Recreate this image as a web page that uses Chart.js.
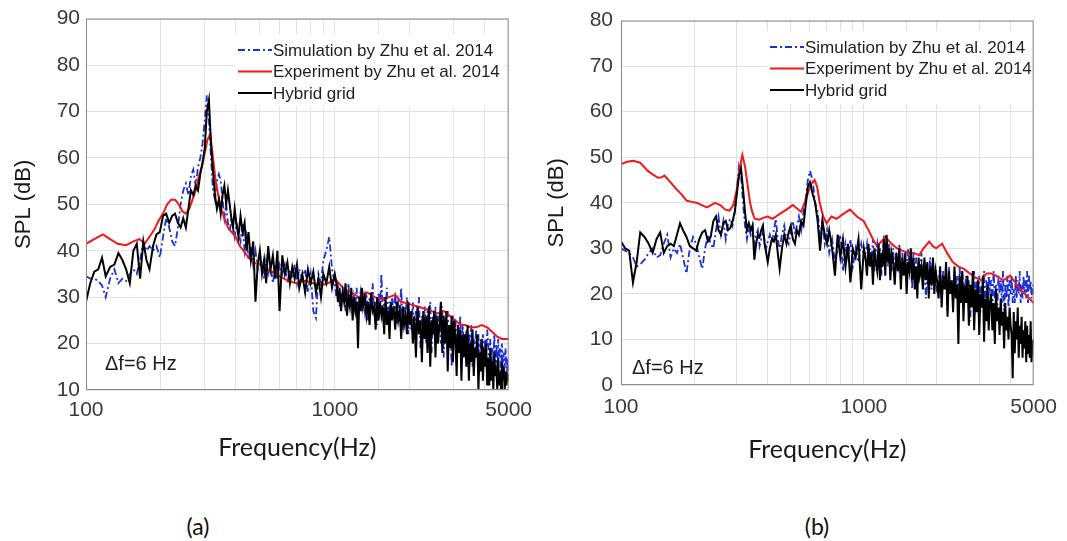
<!DOCTYPE html>
<html>
<head>
<meta charset="utf-8">
<script src="https://cdn.jsdelivr.net/npm/chart.js@4"></script>
<style>
  html, body { margin: 0; padding: 0; background: #fff; }
  body { width: 1067px; height: 541px; position: relative; overflow: hidden; }
  canvas { position: absolute; top: 0; }
  #chartA { left: 0; }
  #chartB { left: 540px; }
  .caption { position: absolute; top: 512px; width: 100px; text-align: center;
             font-family: Lato, "Open Sans", sans-serif; font-size: 23px; color: #111; }
</style>
</head>
<body>
<canvas id="chartA" width="540" height="480"></canvas>
<canvas id="chartB" width="527" height="480"></canvas>
<div class="caption" style="left:148px">(a)</div>
<div class="caption" style="left:767px">(b)</div>
<script>
// series names (legend order)
const seriesNames = ['Simulation by Zhu et al. 2014', 'Experiment by Zhu et al. 2014', 'Hybrid grid'];
const xTickLabels = [100, 1000, 5000];

// frequency grid shared by the simulation and hybrid-grid spectra (Hz)
const freqHz = [100,104,108,112,116,120,
  125,130,135,140,145,150,155,160,165,170,175,180,
  186,192,198,204,210,216,222,228,234,240,246,252,258,264,270,276,282,288,294,300,
  306,312,318,324,330,336,342,348,354,360,366,372,378,384,390,396,402,
  410,418,426,434,442,450,
  460,470,480,490,500,510,520,530,540,
  552,564,576,588,600,
  615,630,645,660,675,690,705,720,
  740,760,780,800,820,840,860,880,900,
  925,950,975,1000,
  1015,1030,1045,1060,1075,1090,1105,1120,1135,1150,1165,1180,1195,1210,1225,1240,1255,1270,1285,1300,
  1320,1340,1360,1380,1400,1420,1440,1460,1480,1500,1520,1540,1560,1580,1600,1620,1640,1660,1680,1700,
  1725,1750,1775,1800,1825,1850,1875,1900,1925,1950,1975,2000,
  2030,2060,2090,2120,2150,2180,2210,2240,2270,2300,2330,2360,2390,2420,2450,2480,2510,2540,2570,2600,
  2635,2670,2705,2740,2775,2810,2845,2880,2915,2950,2985,3020,3055,3090,3125,3160,3195,3230,3265,3300,
  3340,3380,3420,3460,3500,3540,3580,3620,3660,3700,3740,3780,3820,3860,3900,3940,3980,4020,4060,4100,
  4140,4180,4220,4260,4300,4340,4380,4420,4460,4500,4540,4580,4620,4660,4700,4740,4780,4820,4860,4900,4950,5000];

// ---- panel (a) ----
const blackA = [29,33,35.5,36,38.5,34.5,
  36.5,37,39.5,38,36,33,40,41.5,34,42,38,36,
  41,43.5,44,47.5,48,46,47.5,48,46,45,47,45,49,53,52,54,53,56.5,59,62,
  70,72.5,63,57,52,49,51,48,52,54,50,53,50,47,45,49,46,
  43,47.5,44,46,40,44,
  38,42,29,37,40,35,38,33,41,
  36,39,34,40,27,
  39,35,37.5,33,36.5,34,37,32,
  35,31,36,33,35.5,31,34,30,35,
  33,36.5,32,35,
  33,29,32,27,31,29,33,26,30,28,32,25,30,27,29,19,30,27,32,28,
  30,26,29,24,31,27,28,23,30,25,29,26,28,22,30,24,27,21,29,25,
  28,23,29,25,27,21,28,24,26,22,29,24,
  27,20,26,17,28,22,25,16,27,21,26,18,28,15,25,22,27,17,26,20,
  24,29,18,26,20,27,14,24,19,26,16,25,21,13,24,18,23,12,22,17,
  22,15,24,12,20,16,23,13,19,17,22,10,18,14,21,12,19,15,20,11,
  17,11,19,12,16,10,18,13,15,10,17,11,14,10,16,12,15,10,14,11,13,12];

const blueA = [34.5,34,34,33.5,32.5,30,
  34,36,33,34,33.5,35,36,35,38,42,40,41,
  40,41,38.5,43,47,45,42,41,45,50,53,54.5,52,56,57.5,54,58,60,63,68,
  73.5,68,60,53,51,55,56.5,55,51,47,50,46,44,47,45,43,46,
  44,42,46,40,43,38,
  41,37,40,36,39,37,34,38,35,
  37,33,36,34,37,
  35,37,33,36,34,37,33,36,
  34,36,31,35,27,25.5,35,33,38,
  40,43,36,33,
  30,33,28,31,29,32,27,30,33,28,31,26,30,28,32,25,29,31,27,30,
  27,31,25,30,28,33,26,29,24,31,27,35,25,30,27,32,24,29,26,30,
  26,31,24,29,27,32,23,28,26,30,22,27,
  23,29,21,27,24,30,19,26,23,28,20,27,25,29,18,26,22,28,21,25,
  26,20,28,17,25,22,27,19,24,15,26,21,25,18,23,20,26,17,24,21,
  18,23,16,22,19,24,15,21,18,23,17,22,14,21,19,22,16,21,18,23,
  20,15,21,14,19,16,22,13,20,15,21,17,19,13,20,14,18,15,19,13,17,12];

const redFreqA = [100,108,117,125,134,145,155,164,172,180,
  188,196,204,212,220,228,236,244,252,260,268,276,284,292,300,
  308,316,324,332,340,350,360,372,385,400,
  415,430,450,470,500,530,560,600,650,700,
  760,820,880,940,1000,1080,1160,1250,1350,1450,
  1550,1650,1750,1850,2000,2150,2300,2450,2600,2750,
  2900,3050,3200,3350,3500,3700,3900,4100,4300,4500,
  4700,4850,5000];
const redA = [41.5,42.5,43.5,42.5,41.5,41.2,42,42.5,41.5,43,
  44.5,46.5,48,50,51,51,50,48.5,48,49,51,53,56,58,61,
  64,65,60,55,52,49,47,45,44,43,
  41,40,38.5,37.5,37,36,35.5,34.5,33.5,33,
  33.5,33,32.5,33,34,32,31,30,31,30,
  29.5,30,30.5,29,28.5,28,27.5,27,26.5,27,
  26,25,24,24,23.5,23.5,24,23.5,22.5,21.5,
  21,21,21];

// ---- panel (b) ----
const blackB = [31.5,30,29.5,22.5,27,33.5,
  32.5,31,29,32,33.5,29,30.5,31,30.5,33,35.5,34,
  32.5,30.5,30,29.5,32,33.5,34,31.5,32.5,36,37,34,33,35.5,36,34,34.5,36,38,42,
  46,47.5,43,38,34,35.5,34,35,27.5,31,33,32.5,34,35,31,29,27,
  30,32,31.5,33,29,25.5,
  30,33,31,33.5,35,32,31,34,33,
  36,35,39.5,43.5,44.5,
  42,40,36,29.5,36,33,31,34,
  30,24,33,28,32,26,31,22.5,30,
  28,32,21,30,
  28,24,31,26,29,22,30,27,25,31,23,29,26,32,24,33,27,30,23,29,
  27,22,29,25,30,21,28,24,29,20,27,25,30,23,28,21,26,19,28,24,
  26,21,28,23,27,19,26,22,28,20,25,23,
  19,26,17,24,21,27,15,25,20,23,16,26,19,22,9,24,18,25,14,22,
  18,24,13,22,17,25,12,21,16,23,11,20,17,24,9.5,19,14,22,12,18,
  20,12,18,9,21,14,17,11,19,13,16,8,18,12,15,10,17,13,11,1.5,
  16,7,14,10,17,6,13,9,15,6,12,8,14,5,13,7,11,6,14,5,9,10];

const blueB = [30,29.5,29,28,26,26.5,
  27.5,29,30,28,28.5,31,33,28,30,29,31,28,
  24.5,30,32.5,31,28,25.5,30,33,31,30,34,37,33,36,32,35.5,36.5,35,38,43,
  48,46,40,35,32,34.5,33,35,31,33,34,30.5,32,33.5,32,30,31.5,
  33,31,34,36.5,32,30,
  33,35,32,31,34,36,33,35,37,
  34,38,41,45,47,
  45,40,38,33,36,31,34,29,
  32,27,30,33,25,31,28,32,26,
  30,27,31,28,
  29,31,26,30,27,32,25,29,31,27,30,24,29,33,27,30,26,31,28,25,
  30,24,28,26,31,23,29,25,28,22,30,26,27,21,29,24,28,22,27,25,
  29,23,27,19,26,24,28,21,27,23,26,20,
  22,26,19,25,21,24,16,26,20,23,18,25,21,24,16,26,19,25,22,20,
  24,18,23,14,22,20,25,17,23,19,24,16,22,20,25,15,23,19,24,21,
  23,17,25,19,22,16,24,20,23,18,25,16,22,19,24,17,23,20,24,18,
  21,18,24,19,23,20,25,18,22,19,24,20,23,19,25,18,24,21,23,19,22,20];

const redFreqB = [100,106,112,120,129,137,142,147,151,160,
  169,178,186,195,205,215,226,235,244,256,
  269,280,290,300,308,316,324,332,340,347,
  355,370,385,401,421,449,480,510,552,579,
  605,627,642,658,680,702,735,772,820,877,
  935,997,1045,1090,1132,1180,1227,1300,1370,1439,
  1520,1600,1688,1760,1858,1920,1982,2100,2200,2323,
  2450,2580,2725,2900,3050,3197,3350,3500,3750,4000,
  4200,4398,4600,4800,5000];
const redB = [48.5,49,49.2,48.8,47,46,45.5,45.6,46,44.5,
  43,41.8,40.5,40.2,40,39.5,39,39.5,40,39.5,
  38.5,38.3,39.5,43,47.5,50.5,48,44,40,38,
  36.5,36.3,36.7,37,36.5,37.5,38.5,39.5,38,41,
  44,45,43.5,40,37,35.5,37,36.5,37.5,38.5,
  37,36,34,32,30.5,31.5,32.5,31,30,29.5,
  29,29,28.5,30,31.5,30.5,30,31,29,27,
  26,25.5,24.5,23.5,23,24.5,24.5,24,23,24,
  22.5,21,20,19,18];

Chart.defaults.font.family = '"Liberation Sans", Arial, sans-serif';

function pairs(xs, ys) {
  return xs.map((f, i) => ({ x: f, y: ys[i] }));
}

// frame, inside legend and the Δf note
const panelDecor = {
  id: 'panelDecor',
  afterDraw(chart, args, opts) {
    const ctx = chart.ctx;
    const a = chart.chartArea;
    ctx.save();
    ctx.strokeStyle = '#8a8a8a';
    ctx.lineWidth = 1;
    ctx.strokeRect(a.left + 0.5, a.top + 0.5, a.right - a.left - 1, a.bottom - a.top - 1);

    const gap = 21.5;
    ctx.fillStyle = '#fff';
    ctx.fillRect(opts.legendX - 3, opts.legendY - 16, a.right - opts.legendX - 2, gap * 2 + 30);
    chart.data.datasets.forEach((ds, i) => {
      const y = opts.legendY + i * gap;
      ctx.beginPath();
      ctx.strokeStyle = ds.borderColor;
      ctx.lineWidth = ds.borderWidth;
      ctx.setLineDash(ds.borderDash || []);
      ctx.moveTo(opts.legendX, y);
      ctx.lineTo(opts.legendX + 34, y);
      ctx.stroke();
      ctx.setLineDash([]);
      ctx.fillStyle = '#1e1e1e';
      ctx.font = '17px "Liberation Sans", Arial, sans-serif';
      ctx.textBaseline = 'middle';
      ctx.fillText(ds.label, opts.legendX + 35, y + 1);
    });

    ctx.font = '20px "Liberation Sans", Arial, sans-serif';
    ctx.fillStyle = '#1e1e1e';
    ctx.textBaseline = 'middle';
    ctx.fillText('\u0394f=6 Hz', opts.noteX, opts.noteY);
    ctx.restore();
  }
};

function makePanel(canvasId, cfg) {
  return new Chart(document.getElementById(canvasId), {
    type: 'line',
    data: {
      datasets: [{
        label: seriesNames[0],
        data: pairs(freqHz, cfg.blue),
        borderColor: '#1b2fd6',
        borderWidth: 1.8,
        borderDash: [7, 3, 2, 3],
        order: 2
      }, {
        label: seriesNames[1],
        data: pairs(cfg.redFreq, cfg.red),
        borderColor: '#f01818',
        borderWidth: 2,
        order: 1
      }, {
        label: seriesNames[2],
        data: pairs(freqHz, cfg.black),
        borderColor: '#000000',
        borderWidth: 2,
        order: 0
      }]
    },
    options: {
      responsive: false,
      animation: false,
      devicePixelRatio: 1,
      layout: { padding: { top: cfg.padTop, right: cfg.padRight, left: 0, bottom: 0 } },
      elements: { point: { radius: 0 }, line: { tension: 0 } },
      plugins: {
        legend: { display: false },
        tooltip: { enabled: false },
        panelDecor: { legendX: cfg.legendX, legendY: cfg.legendY, noteX: cfg.noteX, noteY: cfg.noteY }
      },
      scales: {
        x: {
          type: 'logarithmic',
          min: 100,
          max: 5000,
          afterFit: (s) => { s.height = cfg.xAxisH; },
          grid: { color: '#e2e2e2', drawTicks: false },
          border: { display: false },
          ticks: {
            autoSkip: false,
            maxRotation: 0,
            padding: cfg.xTickPad,
            color: '#3a3a3a',
            font: { size: 21 },
            callback: (v) => xTickLabels.includes(v) ? String(v) : ''
          },
          title: {
            display: true,
            text: 'Frequency(Hz)',
            color: '#1a1a1a',
            font: { family: 'Lato, "Open Sans", sans-serif', size: 25 },
            padding: { top: 0, bottom: cfg.xTitlePad }
          }
        },
        y: {
          min: cfg.yMin,
          max: cfg.yMax,
          afterFit: (s) => { s.width = cfg.yAxisW; },
          grid: { color: '#e2e2e2', drawTicks: false },
          border: { display: false },
          ticks: { stepSize: 10, padding: cfg.yTickPad, color: '#3a3a3a', font: { size: 21 } },
          title: {
            display: true,
            text: 'SPL (dB)',
            color: '#1a1a1a',
            font: { size: 22 },
            padding: { top: cfg.yTitlePad, bottom: 0 }
          }
        }
      }
    },
    plugins: [panelDecor]
  });
}

makePanel('chartA', {
  blue: blueA, red: redA, redFreq: redFreqA, black: blackA,
  yMin: 10, yMax: 90, yAxisW: 86, xAxisH: 90, padTop: 17, padRight: 30,
  xTickPad: 8, yTickPad: 6, yTitlePad: 11, xTitlePad: 17,
  legendX: 238, legendY: 50, noteX: 105, noteY: 364
});

makePanel('chartB', {
  blue: blueB, red: redB, redFreq: redFreqB, black: blackB,
  yMin: 0, yMax: 80, yAxisW: 81, xAxisH: 95, padTop: 13, padRight: 28,
  xTickPad: 10, yTickPad: 8, yTitlePad: 4, xTitlePad: 15,
  legendX: 230, legendY: 47, noteX: 92, noteY: 368
});
</script>
</body>
</html>
